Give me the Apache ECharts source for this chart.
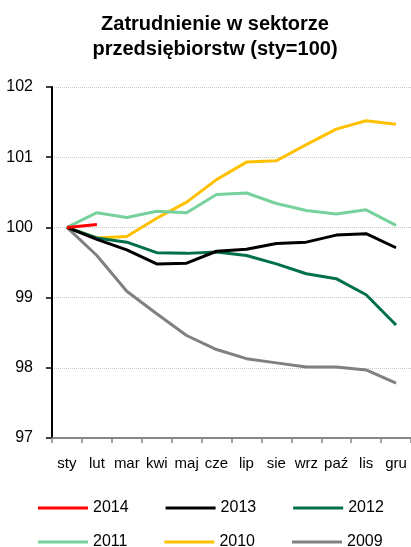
<!DOCTYPE html>
<html>
<head>
<meta charset="utf-8">
<script src="https://cdn.jsdelivr.net/npm/echarts@6/dist/echarts.min.js"></script>
<style>
  html, body { margin: 0; padding: 0; background: #fff; }
  #chart { width: 411px; height: 547px; }
</style>
</head>
<body>
<div id="chart"></div>
<script>
// miesiące
const months = ['sty', 'lut', 'mar', 'kwi', 'maj', 'cze', 'lip', 'sie', 'wrz', 'paź', 'lis', 'gru'];

// zatrudnienie, sty = 100
const y2014 = [100, 100.04];
const y2013 = [100, 99.83, 99.68, 99.48, 99.49, 99.66, 99.69, 99.77, 99.79, 99.89, 99.91, 99.71];
const y2012 = [100, 99.85, 99.79, 99.64, 99.63, 99.65, 99.60, 99.48, 99.34, 99.27, 99.04, 98.61];
const y2011 = [100, 100.21, 100.14, 100.23, 100.21, 100.47, 100.49, 100.34, 100.24, 100.19, 100.25, 100.03];
const y2010 = [100, 99.85, 99.87, 100.13, 100.36, 100.68, 100.93, 100.95, 101.18, 101.40, 101.52, 101.47];
const y2009 = [100, 99.60, 99.09, 98.77, 98.46, 98.26, 98.13, 98.07, 98.01, 98.01, 97.97, 97.78];

const yTicks = [97, 98, 99, 100, 101, 102];

const font = 'Liberation Sans, Arial, sans-serif';

let chart = echarts.init(document.getElementById('chart'));

function line(name, data, color) {
    return {
        name: name,
        type: 'line',
        data: data,
        symbol: 'none',
        lineStyle: { width: 3, color: color },
        itemStyle: { color: color }
    };
}

let legendBase = {
    orient: 'horizontal',
    left: 38,
    padding: 0,
    icon: 'rect',
    itemWidth: 50,
    itemHeight: 3,
    itemGap: 37,
    textStyle: { fontFamily: font, fontSize: 16, color: '#000' },
    selectedMode: false
};

let option = {
    animation: false,
    title: {
        text: 'Zatrudnienie w sektorze\nprzedsiębiorstw (sty=100)',
        left: 210,
        textAlign: 'center',
        top: 7,
        textStyle: { fontFamily: font, fontSize: 20, fontWeight: 'bold', color: '#000', lineHeight: 25 }
    },
    legend: [
        Object.assign({}, legendBase, { top: 500, data: ['2014', '2013', '2012'] }),
        Object.assign({}, legendBase, { top: 534, data: ['2011', '2010', '2009'] })
    ],
    grid: { left: 52, top: 87, width: 360, height: 351 },
    xAxis: {
        type: 'category',
        data: months,
        boundaryGap: true,
        axisLine: { lineStyle: { color: '#868686', width: 2 } },
        axisTick: { show: true, length: 5, lineStyle: { color: '#868686', width: 1.5 } },
        axisLabel: { interval: 0, fontFamily: font, fontSize: 15, color: '#000', margin: 18 },
        splitLine: { show: false }
    },
    yAxis: {
        type: 'value',
        min: yTicks[0],
        max: yTicks[yTicks.length - 1],
        interval: 1,
        axisLine: { show: true, lineStyle: { color: '#000', width: 2 } },
        axisTick: { show: true, length: 6, lineStyle: { color: '#000', width: 1.5 } },
        axisLabel: { fontFamily: font, fontSize: 16, color: '#000', margin: 19 },
        splitLine: { show: true, lineStyle: { color: '#c8c8c8', type: 'dotted', width: 1 } }
    },
    series: [
        line('2009', y2009, '#808080'),
        line('2010', y2010, '#ffc000'),
        line('2011', y2011, '#77d19c'),
        line('2012', y2012, '#00704a'),
        line('2013', y2013, '#000000'),
        line('2014', y2014, '#ff0000')
    ]
};

chart.setOption(option);
</script>
</body>
</html>
